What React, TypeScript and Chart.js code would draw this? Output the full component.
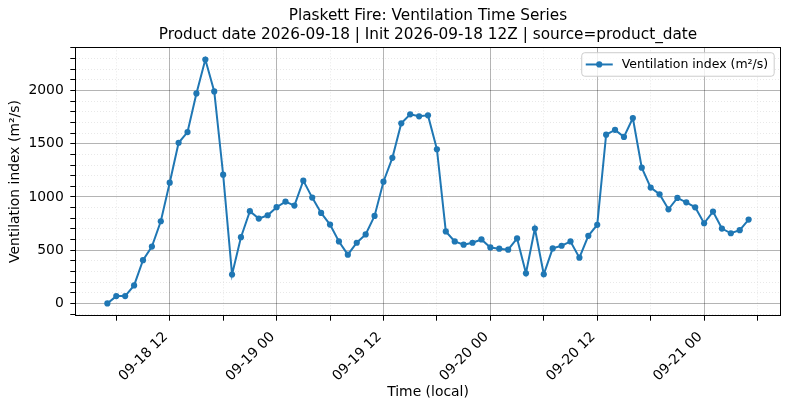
import React, { useEffect, useRef } from 'react';
import { Chart, registerables } from 'chart.js';

Chart.register(...registerables);

const titleLines = [
  'Plaskett Fire: Ventilation Time Series',
  'Product date 2026-09-18 | Init 2026-09-18 12Z | source=product_date',
];
const seriesLabel = 'Ventilation index (m²/s)';
const yTitle = 'Ventilation index (m²/s)';
const xTitle = 'Time (local)';

// hourly samples, first one at 09-18 05 (hours counted from 09-18 00)
const startHour = 5;
const ventilation = [
  0, 69, 69, 169, 406, 534, 772, 1134, 1509, 1609,
  1972, 2290, 1991, 1209, 272, 622, 866, 797, 828, 904,
  957, 919, 1153, 994, 850, 741, 582, 458, 570, 648,
  822, 1143, 1367, 1691, 1776, 1757, 1766, 1448, 676, 582,
  552, 570, 601, 526, 514, 505, 611, 283, 704, 274,
  517, 542, 582, 430, 635, 738, 1585, 1630, 1564, 1741,
  1275, 1088, 1025, 884, 991, 950, 903, 753, 863, 703,
  659, 688, 788,
];
const hours = ventilation.map((_, i) => startHour + i);

const xLimits = [1.4, 80.6];
const yLimits = [-115, 2405];
const xMajorStep = 12;
const xMinorStep = 6;
const yMajorStep = 500;
const yMinorStep = 100;

const FONT = "'DejaVu Sans', sans-serif";
const LINE = '#1f77b4';
const MAJOR_GRID = 'rgba(0,0,0,0.33)';
const MINOR_GRID = 'rgba(0,0,0,0.13)';

const fmtHour = (v: number) => {
  const day = 18 + Math.floor(v / 24);
  const hh = ((v % 24) + 24) % 24;
  return `09-${String(day).padStart(2, '0')} ${String(hh).padStart(2, '0')}`;
};

const isMajor = (ctx: any, step: number) =>
  ctx.tick && Math.abs(Math.round(ctx.tick.value) % step) === 0;

// frame on top/right and a matplotlib-like legend inside the plot area
const framePlugin = {
  id: 'frame',
  afterDatasetsDraw(chart: any) {
    const { ctx, chartArea } = chart;
    const ds = chart.data.datasets[0];
    ctx.save();
    ctx.strokeStyle = '#000';
    ctx.lineWidth = 1;
    const l = Math.round(chartArea.left) + 0.5;
    const t = Math.round(chartArea.top) + 0.5;
    const r = Math.round(chartArea.right) - 0.5;
    const b = Math.round(chartArea.bottom) - 0.5;
    ctx.strokeRect(l, t, r - l, b - t);

    ctx.font = `12.5px ${FONT}`;
    const textW = ctx.measureText(ds.label).width;
    const padL = 4, handle = 27, gap = 9, padR = 6;
    const w = padL + handle + gap + textW + padR;
    const h = 23.5;
    const x = chartArea.right - 6.5 - w;
    const y = chartArea.top + 5.4;
    ctx.beginPath();
    ctx.roundRect(x, y, w, h, 3);
    ctx.fillStyle = 'rgba(255,255,255,0.8)';
    ctx.fill();
    ctx.strokeStyle = '#cccccc';
    ctx.lineWidth = 1;
    ctx.stroke();
    const cy = y + h / 2;
    ctx.strokeStyle = LINE;
    ctx.lineWidth = 2;
    ctx.beginPath();
    ctx.moveTo(x + padL, cy);
    ctx.lineTo(x + padL + handle, cy);
    ctx.stroke();
    ctx.fillStyle = LINE;
    ctx.beginPath();
    ctx.arc(x + padL + handle / 2, cy, 3.1, 0, Math.PI * 2);
    ctx.fill();
    ctx.fillStyle = '#000';
    ctx.textBaseline = 'middle';
    ctx.textAlign = 'left';
    ctx.fillText(ds.label, x + padL + handle + gap, cy + 0.5);
    ctx.restore();
  },
};

export default function App() {
  const canvasRef = useRef<HTMLCanvasElement>(null);
  const chartRef = useRef<Chart | null>(null);

  useEffect(() => {
    if (!canvasRef.current) return;
    if (chartRef.current) chartRef.current.destroy();

    chartRef.current = new Chart(canvasRef.current, {
      type: 'line',
      data: {
        datasets: [
          {
            label: seriesLabel,
            data: hours.map((h, i) => ({ x: h, y: ventilation[i] })),
            borderColor: LINE,
            backgroundColor: LINE,
            borderWidth: 2,
            pointRadius: 3.1,
            pointBorderWidth: 0,
            pointBackgroundColor: LINE,
            tension: 0,
          },
        ],
      },
      options: {
        animation: false,
        responsive: false,
        layout: { padding: { left: 0, right: 9.3, top: 0, bottom: 0 } },
        plugins: {
          legend: { display: false },
          tooltip: { enabled: false },
          title: {
            display: true,
            text: titleLines,
            fullSize: false,
            color: '#000',
            font: { family: FONT, size: 15.3, weight: 'normal', lineHeight: 1.2 },
            padding: { top: 7.2, bottom: 3.4 },
          },
        },
        scales: {
          x: {
            type: 'linear',
            min: xLimits[0],
            max: xLimits[1],
            afterFit: (s: any) => {
              s.height = 93.3;
            },
            ticks: {
              stepSize: xMinorStep,
              includeBounds: false,
              autoSkip: false,
              minRotation: 45,
              maxRotation: 45,
              padding: 8,
              labelOffset: -4,
              color: '#000',
              font: { family: FONT, size: 13.9 },
              callback: (v: any) => (Math.round(v) % xMajorStep === 0 ? fmtHour(Math.round(v)) : ''),
            },
            grid: {
              color: (c: any) => (isMajor(c, xMajorStep) ? MAJOR_GRID : MINOR_GRID),
              lineWidth: (c: any) => (isMajor(c, xMajorStep) ? 0.9 : 0.7),
              tickColor: '#000',
              tickLength: 5,
              tickWidth: 1,
            },
            border: {
              color: '#000',
              width: 1,
              dash: (c: any) => (c.tick && !isMajor(c, xMajorStep) ? [1, 2] : []),
            },
            title: {
              display: true,
              text: xTitle,
              color: '#000',
              font: { family: FONT, size: 13.9 },
              padding: { top: 0, bottom: 8.2 },
            },
          },
          y: {
            type: 'linear',
            min: yLimits[0],
            max: yLimits[1],
            afterFit: (s: any) => {
              s.width = 75.3;
            },
            ticks: {
              stepSize: yMinorStep,
              includeBounds: false,
              autoSkip: false,
              padding: 6.5,
              color: '#000',
              font: { family: FONT, size: 13.9 },
              callback: (v: any) => (Math.round(v) % yMajorStep === 0 ? String(Math.round(v)) : ''),
            },
            grid: {
              color: (c: any) => (isMajor(c, yMajorStep) ? MAJOR_GRID : MINOR_GRID),
              lineWidth: (c: any) => (isMajor(c, yMajorStep) ? 0.9 : 0.7),
              tickColor: '#000',
              tickLength: 5,
              tickWidth: 1,
            },
            border: {
              color: '#000',
              width: 1,
              dash: (c: any) => (c.tick && !isMajor(c, yMajorStep) ? [1, 2] : []),
            },
            title: {
              display: true,
              text: yTitle,
              color: '#000',
              font: { family: FONT, size: 13.9 },
              padding: { top: 6.9, bottom: 0 },
            },
          },
        },
      },
      plugins: [framePlugin],
    } as any);

    return () => {
      if (chartRef.current) {
        chartRef.current.destroy();
        chartRef.current = null;
      }
    };
  }, []);

  return (
    <div style={{ position: 'fixed', left: 0, top: 0, width: 790, height: 409, background: '#fff' }}>
      <canvas ref={canvasRef} width={790} height={409} />
    </div>
  );
}
